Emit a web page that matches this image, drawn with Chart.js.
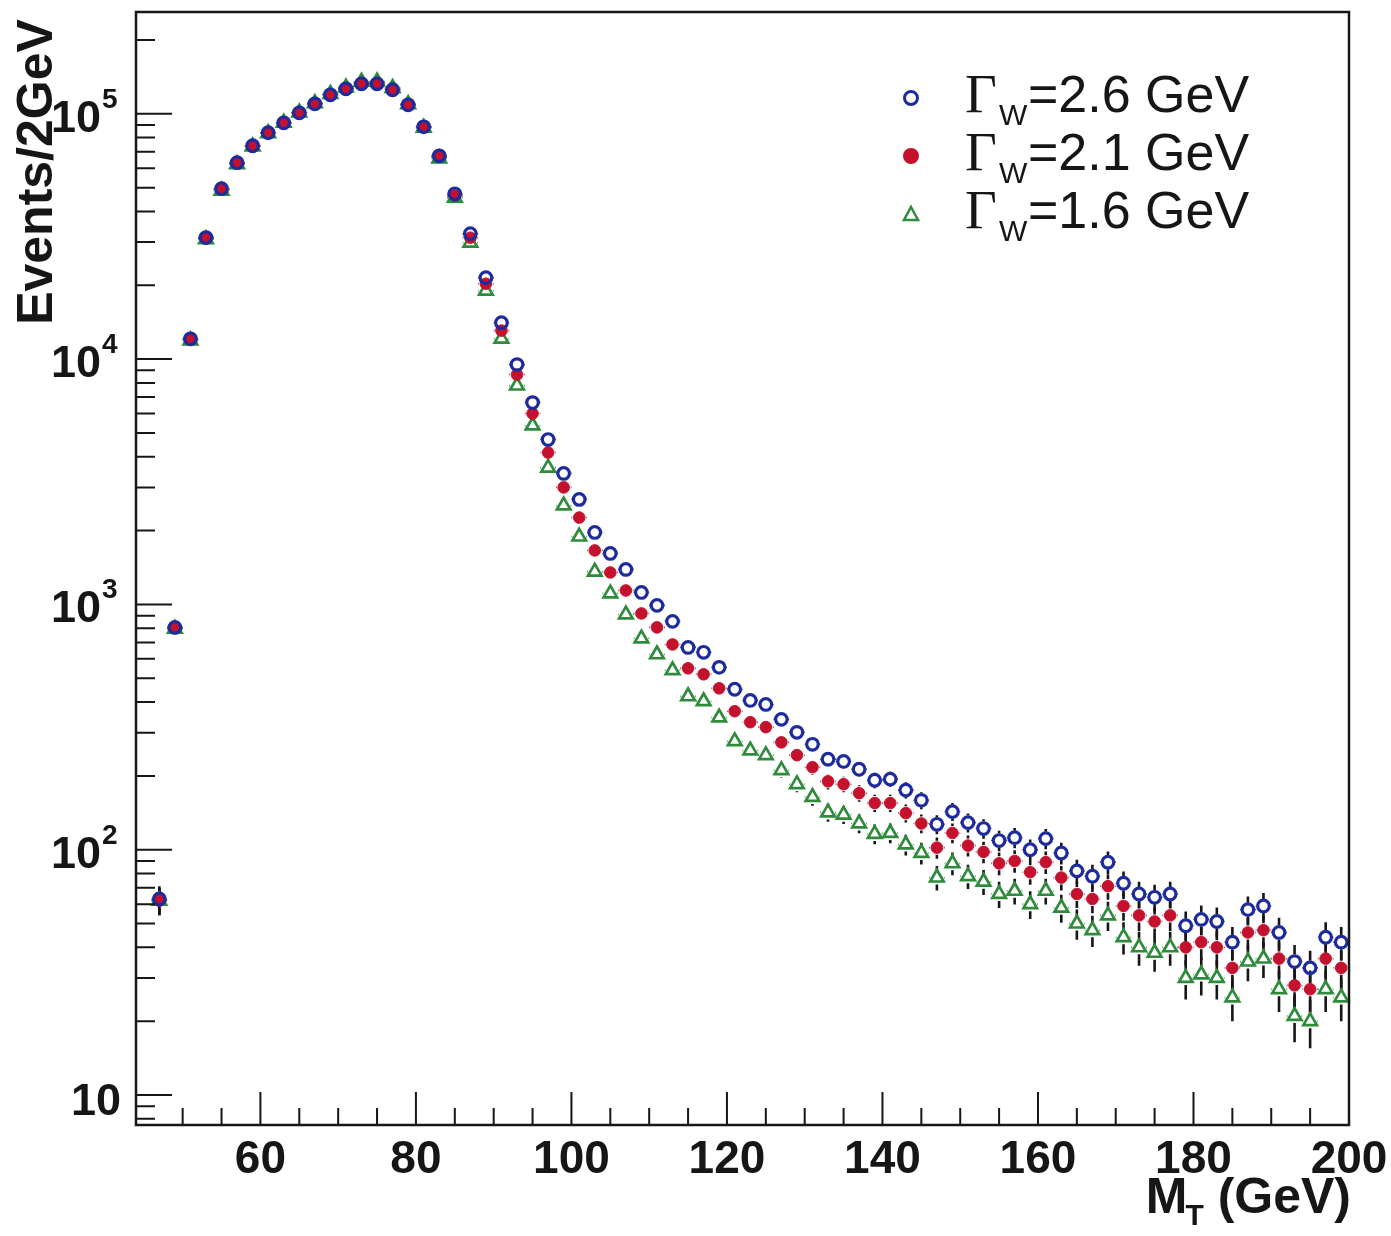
<!DOCTYPE html>
<html>
<head>
<meta charset="utf-8">
<title>Transverse mass, three W widths</title>
<script src="https://cdn.jsdelivr.net/npm/chart.js@4.4.1/dist/chart.umd.min.js"></script>
<style>
  html, body { margin: 0; padding: 0; background: #fff; }
  #wrap { width: 1391px; height: 1236px; position: relative; }
</style>
</head>
<body>
<div id="wrap"><canvas id="mtChart"></canvas></div>
<script>
// bin centres in GeV (2 GeV bins)
const binCenters = [
  47, 49, 51, 53, 55, 57, 59, 61, 63, 65, 67, 69, 71, 73, 75, 77, 79, 81, 83, 85,
  87, 89, 91, 93, 95, 97, 99, 101, 103, 105, 107, 109, 111, 113, 115, 117, 119, 121, 123, 125,
  127, 129, 131, 133, 135, 137, 139, 141, 143, 145, 147, 149, 151, 153, 155, 157, 159, 161, 163, 165,
  167, 169, 171, 173, 175, 177, 179, 181, 183, 185, 187, 189, 191, 193, 195, 197, 199
];

// events per bin, Gamma_W = 2.6 GeV
const eventsWidth26 = [
  63, 806, 12100, 31300, 49500, 63200, 74100, 83700, 91900, 100900, 109800, 119500, 126400, 132500, 132500, 125300, 108800, 88500, 67400, 47200,
  32450, 21480, 14080, 9500, 6650, 4700, 3420, 2680, 1965, 1614, 1389, 1119, 991, 853, 668, 638, 554, 451, 406, 391,
  340, 301, 269, 234, 229, 213, 192, 194, 175, 159, 127, 143, 129, 122, 109, 112, 100, 111, 97, 82,
  78, 89, 73, 66, 64, 66, 49, 52, 51, 42, 57, 59, 46, 35, 33, 44, 42
];

// events per bin, Gamma_W = 2.1 GeV
const eventsWidth21 = [
  62, 800, 12050, 31100, 49300, 63000, 74000, 83700, 92000, 101000, 110000, 119800, 127000, 133500, 133500, 126000, 109000, 88200, 66800, 46300,
  31260, 20300, 13070, 8650, 6000, 4160, 3000, 2260, 1660, 1350, 1140, 919, 806, 687, 549, 519, 455, 367, 331, 316,
  274, 243, 217, 190, 185, 170, 155, 155, 141, 128, 102, 117, 104, 98, 88, 90, 81, 89, 77, 66,
  63, 71, 59, 54, 51, 54, 40, 42, 40, 33, 46, 47, 36, 28, 27, 36, 33
];

// events per bin, Gamma_W = 1.6 GeV
const eventsWidth16 = [
  62, 795, 11900, 30800, 48600, 62300, 73600, 83400, 91900, 101200, 110500, 120500, 128000, 135000, 135500, 127500, 109500, 87800, 65800, 45500,
  29810, 19010, 12120, 7800, 5360, 3610, 2530, 1890, 1360, 1109, 910, 727, 626, 539, 422, 403, 346, 277, 254, 243,
  211, 185, 164, 142, 139, 128, 116, 117, 105, 97, 77, 88, 78, 74, 66, 68, 60, 68, 58, 50,
  47, 54, 44, 40, 38, 40, 30, 31, 30, 25, 35, 36, 27, 21, 20, 27, 25
];

const xMajorTicks = [60, 80, 100, 120, 140, 160, 180, 200];
const xMinorTicks = [50, 55, 65, 70, 75, 85, 90, 95, 105, 110, 115, 125, 130, 135, 145, 150, 155, 165, 170, 175, 185, 190, 195];
const yMajorTicks = [10, 100, 1000, 10000, 100000];
const yMajorExponents = ['', '2', '3', '4', '5'];
const yMinorTicks = [
  8, 9,
  20, 30, 40, 50, 60, 70, 80, 90,
  200, 300, 400, 500, 600, 700, 800, 900,
  2000, 3000, 4000, 5000, 6000, 7000, 8000, 9000,
  20000, 30000, 40000, 50000, 60000, 70000, 80000, 90000,
  200000
];
const legendValues = ['=2.6 GeV', '=2.1 GeV', '=1.6 GeV'];

const BLUE = '#1d2b9e';
const RED = '#c4112d';
const GREEN = '#2f8a3c';
const INK = '#161616';
const SANS = '"Liberation Sans", Arial, Helvetica, sans-serif';
const SERIF = '"Liberation Serif", "Times New Roman", serif';
const MARKER_GAP = 7; // error bars stop at the marker edge, as ROOT draws them

function toPoints(values) {
  return binCenters.map((c, i) => ({ x: c, y: values[i] }));
}

// Poisson error bars (black) and +-1 GeV bin-width bars (series colour), under the markers
const errorBarPlugin = {
  id: 'errorBars',
  beforeDatasetsDraw(chart) {
    const { ctx, chartArea: a, scales: { x, y } } = chart;
    ctx.save();
    ctx.beginPath();
    ctx.rect(a.left, a.top, a.right - a.left, a.bottom - a.top);
    ctx.clip();
    chart.data.datasets.forEach(ds => {
      ds.data.forEach(p => {
        const err = Math.sqrt(p.y);
        const px = x.getPixelForValue(p.x);
        const py = y.getPixelForValue(p.y);
        const top = y.getPixelForValue(p.y + err);
        const bot = y.getPixelForValue(Math.max(p.y - err, 1));
        ctx.setLineDash([]);
        ctx.strokeStyle = INK;
        ctx.lineWidth = 2.6;
        ctx.beginPath();
        if (py - MARKER_GAP > top) { ctx.moveTo(px, top); ctx.lineTo(px, py - MARKER_GAP); }
        if (bot > py + MARKER_GAP) { ctx.moveTo(px, py + MARKER_GAP); ctx.lineTo(px, bot); }
        ctx.stroke();
        const xl = x.getPixelForValue(p.x - 1);
        const xr = x.getPixelForValue(p.x + 1);
        ctx.setLineDash([2, 3]);
        ctx.strokeStyle = ds.borderColor;
        ctx.lineWidth = 1.6;
        ctx.beginPath();
        ctx.moveTo(xl, py); ctx.lineTo(px - MARKER_GAP, py);
        ctx.moveTo(px + MARKER_GAP, py); ctx.lineTo(xr, py);
        ctx.stroke();
      });
    });
    ctx.restore();
  }
};

// frame, inward ticks, labels, titles and legend
const framePlugin = {
  id: 'frame',
  afterDraw(chart) {
    const { ctx, chartArea: a, scales: { x, y } } = chart;
    ctx.save();
    ctx.setLineDash([]);
    ctx.strokeStyle = INK;
    ctx.lineWidth = 2.5;
    ctx.strokeRect(a.left, a.top, a.right - a.left, a.bottom - a.top);

    ctx.lineWidth = 2;
    ctx.beginPath();
    xMajorTicks.forEach(v => {
      const px = x.getPixelForValue(v);
      ctx.moveTo(px, a.bottom); ctx.lineTo(px, a.bottom - 33);
    });
    xMinorTicks.forEach(v => {
      const px = x.getPixelForValue(v);
      ctx.moveTo(px, a.bottom); ctx.lineTo(px, a.bottom - 17);
    });
    yMajorTicks.forEach(v => {
      const py = y.getPixelForValue(v);
      ctx.moveTo(a.left, py); ctx.lineTo(a.left + 36, py);
    });
    yMinorTicks.forEach(v => {
      const py = y.getPixelForValue(v);
      ctx.moveTo(a.left, py); ctx.lineTo(a.left + 19, py);
    });
    ctx.stroke();

    ctx.fillStyle = INK;
    ctx.textBaseline = 'alphabetic';

    // x tick labels
    ctx.font = 'bold 46px ' + SANS;
    ctx.textAlign = 'center';
    xMajorTicks.forEach(v => ctx.fillText(String(v), x.getPixelForValue(v), a.bottom + 48));

    // y tick labels, 10 with a raised exponent
    yMajorTicks.forEach((v, i) => {
      const py = y.getPixelForValue(v);
      const exp = yMajorExponents[i];
      ctx.font = 'bold 45px ' + SANS;
      ctx.textAlign = 'right';
      if (exp === '') {
        ctx.fillText('10', a.left - 15, py + 20);
      } else {
        ctx.fillText('10', a.left - 35, py + 18);
        ctx.font = 'bold 28px ' + SANS;
        ctx.textAlign = 'left';
        ctx.fillText(exp, a.left - 34, py - 6);
      }
    });

    // y title
    ctx.save();
    ctx.translate(52, 172);
    ctx.rotate(-Math.PI / 2);
    ctx.font = 'bold 50px ' + SANS;
    ctx.textAlign = 'center';
    ctx.fillText('Events/2GeV', 0, 0);
    ctx.restore();

    // x title: M_T (GeV), right aligned to the frame
    ctx.textAlign = 'left';
    ctx.font = 'bold 50px ' + SANS;
    const wM = ctx.measureText('M').width;
    const wRest = ctx.measureText(' (GeV)').width;
    ctx.font = 'bold 30px ' + SANS;
    const wT = ctx.measureText('T').width;
    const titleBase = 1213;
    const tx = a.right + 2 - (wM + wT - 2 + wRest);
    ctx.font = 'bold 50px ' + SANS;
    ctx.fillText('M', tx, titleBase);
    ctx.font = 'bold 30px ' + SANS;
    ctx.fillText('T', tx + wM - 2, titleBase + 12);
    ctx.font = 'bold 50px ' + SANS;
    ctx.fillText(' (GeV)', tx + wM + wT - 2, titleBase);

    // legend
    legendValues.forEach((label, i) => {
      const base = 112 + i * 58;
      const mx = 911, my = base - 14;
      ctx.setLineDash([]);
      if (i === 0) {
        ctx.strokeStyle = BLUE; ctx.lineWidth = 3;
        ctx.beginPath(); ctx.arc(mx, my, 6.5, 0, Math.PI * 2); ctx.stroke();
      } else if (i === 1) {
        ctx.fillStyle = RED;
        ctx.beginPath(); ctx.arc(mx, my, 8, 0, Math.PI * 2); ctx.fill();
      } else {
        ctx.strokeStyle = GREEN; ctx.lineWidth = 2.5;
        ctx.beginPath();
        ctx.moveTo(mx, my - 7); ctx.lineTo(mx + 7, my + 6); ctx.lineTo(mx - 7, my + 6);
        ctx.closePath(); ctx.stroke();
      }
      ctx.fillStyle = INK;
      ctx.textAlign = 'left';
      ctx.font = '55px ' + SERIF;
      ctx.fillText('\u0393', 965, base);
      ctx.font = '30px ' + SANS;
      ctx.fillText('W', 999, base + 13);
      ctx.font = '52px ' + SANS;
      ctx.fillText(label, 1028, base);
    });

    ctx.restore();
  }
};

new Chart(document.getElementById('mtChart'), {
  type: 'scatter',
  data: {
    datasets: [
      {
        label: '\u0393W=2.6 GeV',
        data: toPoints(eventsWidth26),
        pointStyle: 'circle',
        pointRadius: 5.8,
        borderWidth: 3.2,
        borderColor: BLUE,
        backgroundColor: 'rgba(0,0,0,0)'
      },
      {
        label: '\u0393W=2.1 GeV',
        data: toPoints(eventsWidth21),
        pointStyle: 'circle',
        pointRadius: 5.8,
        borderWidth: 1,
        borderColor: RED,
        backgroundColor: RED
      },
      {
        label: '\u0393W=1.6 GeV',
        data: toPoints(eventsWidth16),
        pointStyle: 'triangle',
        pointRadius: 7.8,
        borderWidth: 2.7,
        borderColor: GREEN,
        backgroundColor: 'rgba(0,0,0,0)'
      }
    ]
  },
  options: {
    responsive: true,
    maintainAspectRatio: false,
    animation: false,
    events: [],
    layout: { padding: { left: 136, right: 42, top: 12, bottom: 111 } },
    scales: {
      x: { type: 'linear', min: 44, max: 200, display: false },
      y: { type: 'logarithmic', min: 7.55, max: 2.6e5, display: false }
    },
    plugins: {
      legend: { display: false },
      tooltip: { enabled: false }
    }
  },
  plugins: [errorBarPlugin, framePlugin]
});
</script>
</body>
</html>
